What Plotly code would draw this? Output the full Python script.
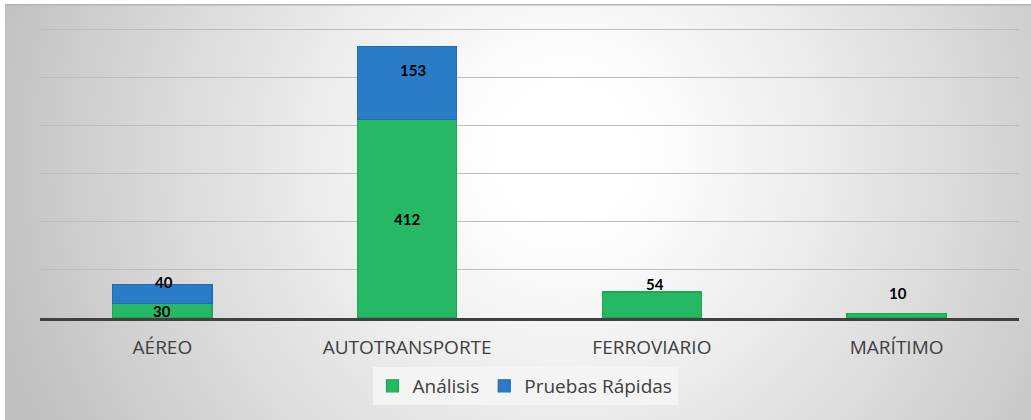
import base64
import plotly.graph_objects as go

# ---- data ----
categories = ["AÉREO", "AUTOTRANSPORTE", "FERROVIARIO", "MARÍTIMO"]
analisis = [30, 412, 54, 10]
pruebas = [40, 153, None, None]
series_names = ["Análisis", "Pruebas Rápidas"]
y_max = 600
y_step = 100

# ---- layout constants ----
W, H = 1031, 420
ML, MR, MT, MB = 40, 12, 28, 102
PW, PH = W - ML - MR, H - MT - MB

GREEN, GREEN_LINE = "#26B865", "#1FA653"
BLUE, BLUE_LINE = "#2B7CC6", "#1E6CBA"
TXT = "#404040"

fig = go.Figure()
fig.add_trace(go.Bar(
    x=categories, y=analisis, name=series_names[0],
    marker=dict(color=GREEN, line=dict(color=GREEN_LINE, width=1.2)),
    width=0.405, hoverinfo="skip"))
fig.add_trace(go.Bar(
    x=categories, y=pruebas, name=series_names[1],
    marker=dict(color=BLUE, line=dict(color=BLUE_LINE, width=1.2)),
    width=0.405, hoverinfo="skip"))

# data labels (pixel nudges to mimic the original manual placement)
label_font = dict(family="Lato, Liberation Sans, sans-serif", size=15, color="#000000")
nudges_a = {0: ("mid", 0, 0), 1: ("mid", 0, 0), 2: ("top", 8, 3), 3: ("top", 20, 1)}
nudges_p = {0: ("top", 2, 2), 1: ("top", -24, 6)}
for i, c in enumerate(categories):
    v = analisis[i]
    pos, ys, xs = nudges_a[i]
    yv = v / 2 if pos == "mid" else v
    fig.add_annotation(x=c, y=yv, text=f"<b>{v}</b>", showarrow=False, font=label_font,
                       yshift=ys, xshift=xs, yanchor="middle")
    p = pruebas[i]
    if p is not None:
        pos, ys, xs = nudges_p[i]
        fig.add_annotation(x=c, y=v + p, text=f"<b>{p}</b>", showarrow=False, font=label_font,
                           yshift=ys, xshift=xs, yanchor="middle")

# gradient background as svg image
BX, BY = 5, 4
BW, BH = W - BX, H - BY
svg = f'''<svg xmlns="http://www.w3.org/2000/svg" width="{BW}" height="{BH}" viewBox="0 0 {BW} {BH}" preserveAspectRatio="none">
<defs><radialGradient id="g" gradientUnits="userSpaceOnUse" cx="560" cy="150" r="590">
<stop offset="0" stop-color="#ffffff"/>
<stop offset="0.12" stop-color="#ffffff"/>
<stop offset="0.4" stop-color="#eeeeee"/>
<stop offset="0.7" stop-color="#d8d8d8"/>
<stop offset="1" stop-color="#c0c0c0"/>
</radialGradient></defs>
<rect x="0" y="0" width="{BW}" height="{BH}" fill="url(#g)"/>
<rect x="0" y="0" width="{BW}" height="1.5" fill="#b4b4b4"/>
</svg>'''
src = "data:image/svg+xml;base64," + base64.b64encode(svg.encode()).decode()
fig.add_layout_image(dict(
    source=src, xref="paper", yref="paper",
    x=(BX - ML) / PW, y=(H - MB - BY) / PH,
    sizex=BW / PW, sizey=BH / PH,
    xanchor="left", yanchor="top", sizing="stretch", layer="below"))

fig.update_layout(
    width=W, height=H,
    margin=dict(l=ML, r=MR, t=MT, b=MB, pad=0),
    paper_bgcolor="#ffffff", plot_bgcolor="rgba(0,0,0,0)",
    barmode="stack", bargap=0.595,
    showlegend=True,
    legend=dict(orientation="h", x=(525 - ML) / PW, xanchor="center",
                y=(H - MB - 367) / PH, yanchor="top", traceorder="normal",
                bgcolor="#f4f4f4", borderwidth=0,
                font=dict(family="Open Sans", size=19, color=TXT),
                itemwidth=30, tracegroupgap=0),
    xaxis=dict(showgrid=False, showline=True, linecolor="#404040", linewidth=3,
               ticks="", tickfont=dict(family="Open Sans", size=19, color=TXT),
               ticklabelstandoff=10, fixedrange=True),
    yaxis=dict(range=[0, y_max + 3], dtick=y_step, showgrid=True, gridcolor="#bdbdbd",
               gridwidth=1, showticklabels=False, zeroline=False, ticks="",
               fixedrange=True),
)

fig.write_html("out.html", config={"displayModeBar": False},
               post_script="document.body.style.margin='0';")
